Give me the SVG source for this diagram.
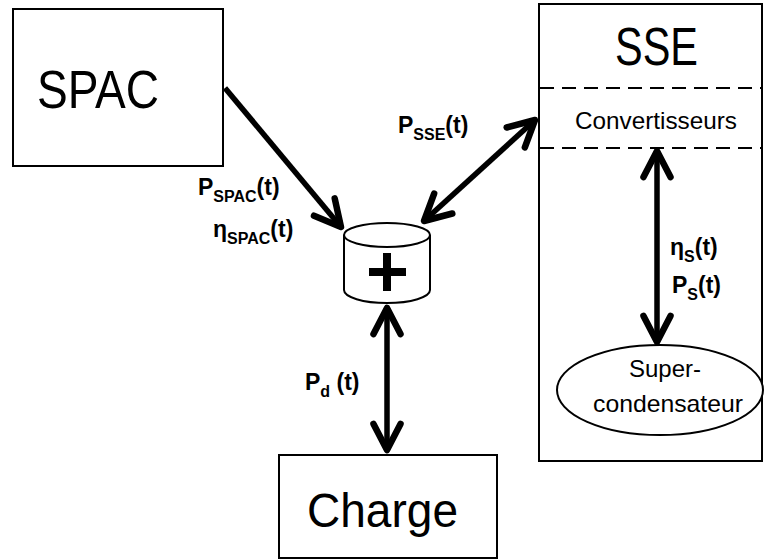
<svg xmlns="http://www.w3.org/2000/svg" width="764" height="560" viewBox="0 0 764 560">
<style>
.box{fill:#fff;stroke:#000;stroke-width:2}
.big{font-family:"Liberation Sans",Arial,sans-serif;font-size:53px;fill:#000}
.med{font-family:"Liberation Sans",Arial,sans-serif;font-size:24px;fill:#000}
.lbl{font-family:"Liberation Sans",Arial,sans-serif;font-size:23px;font-weight:bold;fill:#000}
.sub{font-size:16px}
.dash{stroke:#000;stroke-width:1.8;stroke-dasharray:14 8;fill:none}
.conn{stroke:#000;stroke-width:5.5;fill:none;marker-end:url(#ah)}
.conn2{stroke:#000;stroke-width:5.5;fill:none;marker-start:url(#ah);marker-end:url(#ah)}
</style>
<defs>
<marker id="ah" markerUnits="userSpaceOnUse" markerWidth="40" markerHeight="40" viewBox="-35 -20 40 40" refX="0" refY="0" orient="auto-start-reverse" overflow="visible">
<path d="M-26,-13.5 L0,0 L-26,13.5" fill="none" stroke="#000" stroke-width="6.5" stroke-linecap="round" stroke-linejoin="round"/>
</marker>
</defs>
<rect width="764" height="560" fill="#fff"/>

<g id="spac">
<rect class="box" x="13" y="9" width="210" height="157"/>
<text class="big" x="37" y="108" textLength="122" lengthAdjust="spacingAndGlyphs">SPAC</text>
</g>

<g id="sse">
<rect class="box" x="539" y="4" width="223" height="457"/>
<text class="big" x="615" y="65" textLength="83" lengthAdjust="spacingAndGlyphs">SSE</text>
<line class="dash" x1="540" y1="88" x2="762" y2="88"/>
<line class="dash" x1="540" y1="148" x2="762" y2="148"/>
</g>

<g id="convertisseurs">
<text class="med" x="656" y="129" text-anchor="middle" textLength="162" lengthAdjust="spacingAndGlyphs">Convertisseurs</text>
</g>

<g id="supercondensateur">
<ellipse class="box" cx="660" cy="390" rx="103" ry="45"/>
<text class="med" x="665" y="377" text-anchor="middle">Super-</text>
<text class="med" x="668" y="412" text-anchor="middle" textLength="150" lengthAdjust="spacingAndGlyphs">condensateur</text>
</g>

<g id="sommateur">
<path class="box" d="M344,235 L344,290 A43,13 0 0 0 430,290 L430,235"/>
<ellipse class="box" cx="387" cy="235" rx="43" ry="12"/>
<line x1="369" y1="272" x2="406" y2="272" stroke="#000" stroke-width="8"/>
<line x1="387" y1="253" x2="387" y2="291" stroke="#000" stroke-width="8"/>
</g>

<g id="charge">
<rect class="box" x="279" y="455" width="218" height="103"/>
<text class="big" x="307" y="527" textLength="151" lengthAdjust="spacingAndGlyphs" style="font-size:48px">Charge</text>
</g>

<g id="connectors">
<line class="conn" x1="225" y1="88" x2="341" y2="227"/>
<line class="conn2" x1="424" y1="221" x2="535" y2="120"/>
<line class="conn2" x1="387" y1="308" x2="387" y2="450"/>
<line class="conn2" x1="657" y1="151" x2="657" y2="342"/>
</g>

<g id="labels">
<text class="lbl" x="198" y="195">P<tspan class="sub" dy="7">SPAC</tspan><tspan dy="-7">(t)</tspan></text>
<text class="lbl" x="213" y="237">η<tspan class="sub" dy="7">SPAC</tspan><tspan dy="-7">(t)</tspan></text>
<text class="lbl" x="398" y="133">P<tspan class="sub" dy="7">SSE</tspan><tspan dy="-7">(t)</tspan></text>
<text class="lbl" x="305" y="390">P<tspan class="sub" dy="7">d</tspan><tspan dy="-7"> (t)</tspan></text>
<text class="lbl" x="670" y="255">η<tspan class="sub" dy="7">S</tspan><tspan dy="-7">(t)</tspan></text>
<text class="lbl" x="672" y="293">P<tspan class="sub" dy="7">S</tspan><tspan dy="-7">(t)</tspan></text>
</g>
</svg>
